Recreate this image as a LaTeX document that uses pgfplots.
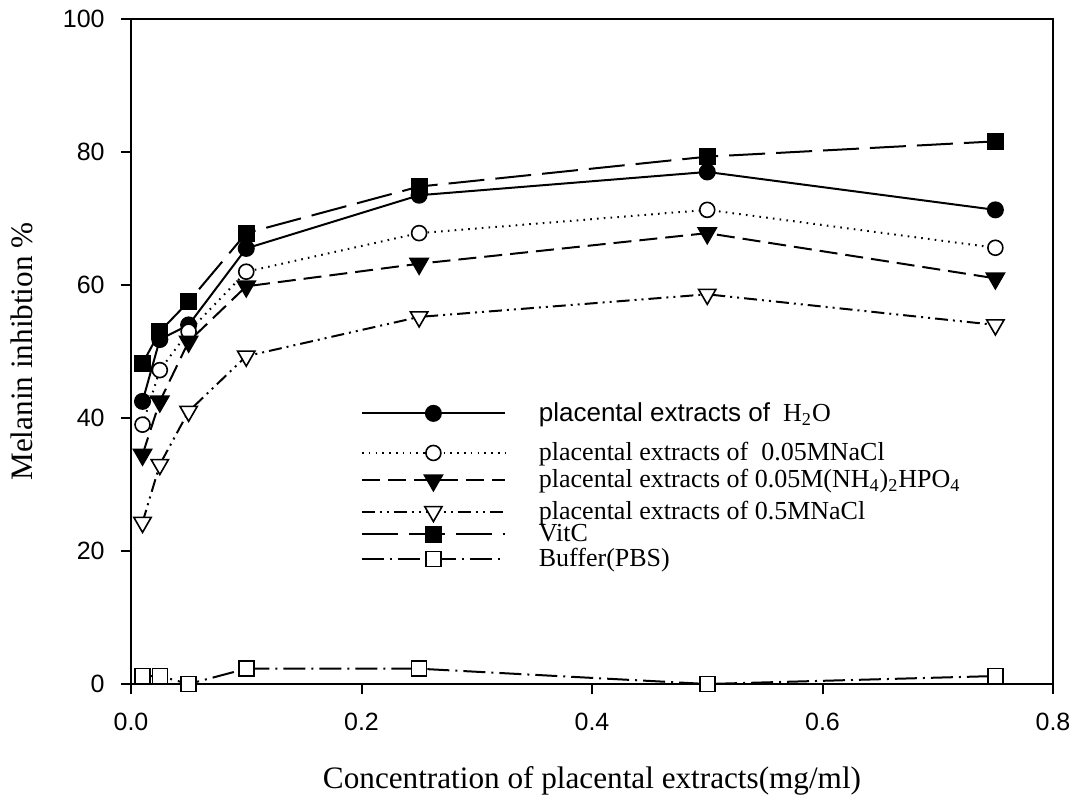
\documentclass[border=0pt]{standalone}
\usepackage{fontspec}
\setmainfont{Liberation Serif}
\newfontfamily\arial{Liberation Sans}
\usepackage{pgfplots}
\pgfplotsset{compat=1.18}
\pgfplotsset{limg/.style={legend image code/.code={\pgfpathrectangle{\pgfpoint{0pt}{-5pt}}{\pgfpoint{71.5pt}{10pt}}\pgfusepath{use as bounding box}\draw[overlay,mark repeat=2,mark phase=2,##1,yshift=-#1] plot coordinates {(0pt,0pt) (35.75pt,0pt) (71.5pt,0pt)};}}}
\newcommand{\lt}[2]{\raisebox{-#1}[\height][\depth]{#2}}
\begin{document}
\begin{tikzpicture}
\useasboundingbox (-65.5pt,-55pt) rectangle (472.5pt,342pt);
\begin{axis}[
  at={(0pt,0pt)}, anchor=south west,
  scale only axis, width=461pt, height=332.5pt,
  xmin=0, xmax=0.8, ymin=0, ymax=100,
  xtick={0,0.2,0.4,0.6,0.8}, ytick={0,20,40,60,80,100},
  xtick pos=left, ytick pos=left, tick align=outside,
  major tick length=5pt,
  axis line style={line width=1pt},
  every tick/.style={line width=1pt, black},
  /pgf/number format/assume math mode=true,
  ticklabel style={font=\arial\fontsize{12.5}{14}\selectfont, inner sep=0pt},
  xticklabel style={anchor=north, yshift=-9.5pt, /pgf/number format/fixed, /pgf/number format/fixed zerofill, /pgf/number format/precision=1},
  yticklabel style={anchor=east, xshift=-8pt, /pgf/number format/fixed, /pgf/number format/precision=0},
  xlabel={Concentration of placental extracts(mg/ml)},
  ylabel={Melanin inhibtion \%},
  label style={font=\fontsize{15.6}{18}\selectfont},
  xlabel style={yshift=-14pt},
  ylabel style={yshift=11.5pt},
  clip=false,
  every axis plot/.append style={line width=1pt, black},
  legend cell align=left,
  legend style={draw=none, fill=none, at={(axis cs:0.2,43)}, anchor=north west,
    font=\fontsize{13}{15}\selectfont, row sep=-0.5pt, column sep=15pt,
    inner sep=0pt},
]
% H2O
\addplot[solid, mark=*, mark size=3.75pt, mark options={solid, fill=black}, limg=0pt] coordinates {
(0.01,42.5) (0.025,51.8) (0.05,54.0) (0.1,65.5) (0.25,73.5) (0.5,77.0) (0.75,71.3)};
\addlegendentry{\lt{0pt}{{\arial placental extracts of}\ \ H\textsubscript{2}O}}
% 0.05M NaCl
\addplot[dash pattern=on 0.8pt off 2.6pt, mark=*, mark size=3.75pt, mark options={solid, fill=white, line width=0.8pt}, limg=5.5pt] coordinates {
(0.01,39.0) (0.025,47.2) (0.05,53.0) (0.1,62.0) (0.25,67.8) (0.5,71.3) (0.75,65.6)};
\addlegendentry{\lt{5.5pt}{placental extracts of \ 0.05MNaCl}}
% (NH4)2HPO4
\addplot[dash pattern=on 9pt off 4pt, mark=triangle*, mark size=5pt, mark options={solid, rotate=180, fill=black}, limg=5pt] coordinates {
(0.01,34.5) (0.025,42.5) (0.05,51.5) (0.1,59.8) (0.25,63.2) (0.5,67.8) (0.75,61.0)};
\addlegendentry{\lt{5pt}{placental extracts of 0.05M(NH\textsubscript{4})\textsubscript{2}HPO\textsubscript{4}}}
% 0.5M NaCl
\addplot[dash pattern=on 6.5pt off 2.5pt on 1pt off 2.5pt on 1pt off 2.5pt, mark=triangle*, mark size=5pt, mark options={solid, rotate=180, fill=white, line width=0.8pt}, limg=6.5pt] coordinates {
(0.01,24.3) (0.025,33.0) (0.05,41.0) (0.1,49.3) (0.25,55.2) (0.5,58.6) (0.75,54.0)};
\addlegendentry{\lt{6.5pt}{placental extracts of 0.5MNaCl}}
% VitC
\addplot[dash pattern=on 18pt off 5.5pt, mark=square*, mark size=3.75pt, mark options={solid, fill=black}, limg=4pt] coordinates {
(0.01,48.2) (0.025,53.0) (0.05,57.5) (0.1,67.8) (0.25,74.8) (0.5,79.3) (0.75,81.6)};
\addlegendentry{\lt{4pt}{VitC}}
% Buffer
\addplot[dash pattern=on 11pt off 3pt on 1pt off 3pt, mark=square*, mark size=3.75pt, mark options={solid, fill=white, line width=0.8pt}, limg=2.5pt] coordinates {
(0.01,1.2) (0.025,1.2) (0.05,0.0) (0.1,2.3) (0.25,2.3) (0.5,0.0) (0.75,1.2)};
\addlegendentry{\lt{2.5pt}{Buffer(PBS)}}
\end{axis}
\end{tikzpicture}
\end{document}
